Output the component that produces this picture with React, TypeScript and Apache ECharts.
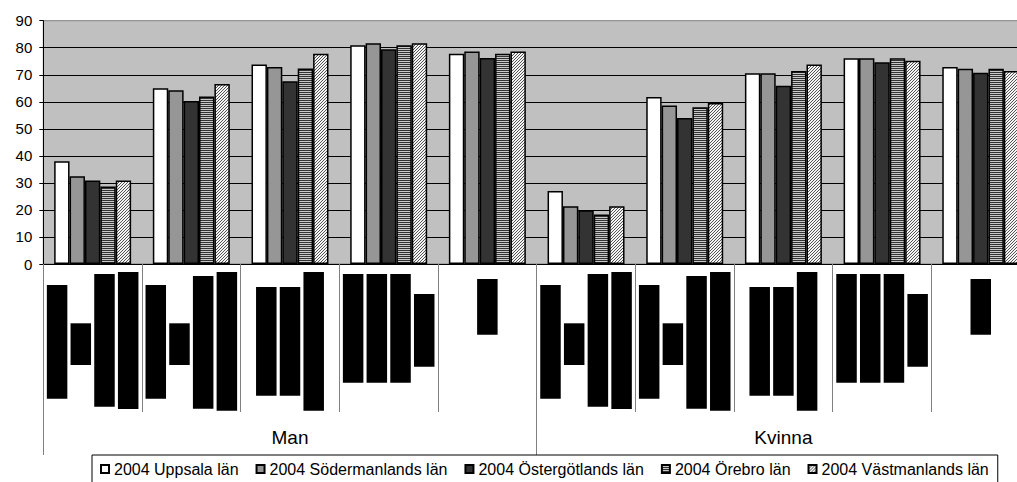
import React, { useEffect, useRef } from 'react';
import * as echarts from 'echarts';

// ---- data ----
const genders = ['Man', 'Kvinna'];
const subgroups = ['Grupp 1', 'Grupp 2', 'Grupp 3', 'Grupp 4', 'Grupp 5'];
const categories = genders.flatMap((g) => subgroups.map((s) => `${g} ${s}`));

const seriesNames = [
  '2004 Uppsala län',
  '2004 Södermanlands län',
  '2004 Östergötlands län',
  '2004 Örebro län',
  '2004 Västmanlands län',
];

const uppsala = [38.0, 65.0, 73.8, 80.9, 77.8, 27.0, 61.8, 70.6, 76.1, 72.9];
const sodermanland = [32.5, 64.3, 72.9, 81.7, 78.6, 21.4, 58.6, 70.6, 76.1, 72.2];
const ostergotland = [30.9, 60.3, 67.6, 79.4, 76.2, 19.9, 54.0, 65.9, 74.6, 70.7];
const orebro = [28.7, 62.0, 72.3, 80.9, 77.8, 18.3, 58.0, 71.4, 76.1, 72.2];
const vastmanland = [30.9, 66.6, 77.8, 81.7, 78.6, 21.4, 59.6, 73.8, 75.2, 71.4];

const yMin = 0;
const yMax = 90;
const yInterval = 10;

// ---- label rendering (illegible rotated labels appear as black blocks) ----
// per sub-group: lines of [offset from base, block length]
const labelBlocks: number[][][] = [
  [[13.3, 113.7], [47, 41.7], [5.3, 132.7], [3, 137]],
  [[13.3, 113.7], [47, 41.7], [3.3, 132.7], [1.3, 138.7]],
  [[16.3, 108.7], [16.3, 108.7], [1.3, 138.7]],
  [[29.3, 108.7], [29.3, 108.7], [29.3, 108.7], [45.3, 72.7]],
  [[77.3, 55.7]],
];

const FONT = 'Arial, "Liberation Sans", sans-serif';

function makePattern(w: number, h: number, draw: (ctx: CanvasRenderingContext2D) => void) {
  const c = document.createElement('canvas');
  c.width = w;
  c.height = h;
  const ctx = c.getContext('2d') as CanvasRenderingContext2D;
  draw(ctx);
  return { image: c, repeat: 'repeat' };
}

export default function App() {
  const ref = useRef<HTMLDivElement>(null);

  useEffect(() => {
    if (!ref.current) return;
    const chart = echarts.init(ref.current, undefined, { renderer: 'svg' });

    const stripes = makePattern(2, 2, (ctx) => {
      ctx.fillStyle = '#c8c8c8';
      ctx.fillRect(0, 0, 2, 2);
      ctx.fillStyle = '#333333';
      ctx.fillRect(0, 0, 2, 1);
    });
    const hatch = makePattern(3, 3, (ctx) => {
      ctx.fillStyle = '#f4f4f4';
      ctx.fillRect(0, 0, 3, 3);
      ctx.fillStyle = '#555555';
      for (let y = 0; y < 3; y++) {
        for (let x = 0; x < 3; x++) {
          if ((x + y) % 3 === 0) ctx.fillRect(x, y, 1, 1);
        }
      }
    });

    const fills: any[] = ['#ffffff', '#969696', '#333333', stripes, hatch];
    const values = [uppsala, sodermanland, ostergotland, orebro, vastmanland];

    // rich styles for label blocks
    const rich: Record<string, any> = {};
    const widthNames = new Map<string, string>();
    const styleName = (w: number, black: boolean) => {
      const key = `${black ? 'b' : 's'}${w}`;
      if (!widthNames.has(key)) {
        const name = `${black ? 'b' : 's'}${widthNames.size}`;
        widthNames.set(key, name);
        rich[name] = {
          width: w,
          height: 20.5,
          lineHeight: 23.7,
          fontSize: 10,
          color: '#000',
          backgroundColor: black ? '#000' : 'transparent',
        };
      }
      return widthNames.get(key) as string;
    };
    const formatted = labelBlocks.map((lines) =>
      lines
        .map(([sp, w]) => `{${styleName(sp, false)}|\u00a0}{${styleName(w, true)}|\u00a0}`)
        .join('\n')
    );

    chart.setOption({
      animation: false,
      textStyle: { fontFamily: FONT, color: '#000' },
      grid: {
        left: 43.3,
        top: 20.7,
        width: 986.8,
        height: 243.3,
        show: true,
        backgroundColor: '#c0c0c0',
        borderColor: '#808080',
        borderWidth: 1,
        outerBoundsMode: 'none',
      },
      legend: {
        left: 92,
        top: 455,
        itemWidth: 8,
        itemHeight: 8,
        itemGap: 17,
        padding: [6, 9, 14, 8],
        borderColor: '#000',
        borderWidth: 1,
        icon: 'rect',
        textStyle: { fontSize: 16, fontFamily: FONT, color: '#000' },
        data: seriesNames,
      },
      xAxis: [
        {
          type: 'category',
          data: categories,
          position: 'bottom',
          axisLine: { show: true, lineStyle: { color: '#000', width: 1 } },
          axisTick: {
            show: true,
            interval: 0,
            length: 148,
            lineStyle: { color: '#808080', width: 1 },
          },
          axisLabel: {
            interval: 0,
            rotate: 90,
            margin: 148,
            align: 'left',
            verticalAlign: 'middle',
            lineHeight: 23.7,
            formatter: (_v: string, i: number) => formatted[i % subgroups.length],
            rich,
          },
          splitLine: { show: false },
        },
        {
          type: 'category',
          data: genders,
          position: 'bottom',
          axisLine: { show: false },
          axisTick: {
            show: true,
            interval: 0,
            length: 191,
            lineStyle: { color: '#808080', width: 1 },
          },
          axisLabel: {
            interval: 0,
            margin: 173,
            verticalAlign: 'middle',
            fontSize: 19,
            fontFamily: FONT,
            color: '#000',
          },
          splitLine: { show: false },
        },
      ],
      yAxis: {
        type: 'value',
        min: yMin,
        max: yMax,
        interval: yInterval,
        axisLine: { show: true, lineStyle: { color: '#000', width: 1 } },
        axisTick: { show: true, length: 4, lineStyle: { color: '#000' } },
        axisLabel: { fontSize: 15, color: '#000', margin: 11, fontFamily: FONT },
        splitLine: { show: true, showMaxLine: false, lineStyle: { color: '#000', width: 1 } },
      },
      series: seriesNames.map((name, i) => ({
        name,
        type: 'bar',
        xAxisIndex: 0,
        data: values[i],
        barGap: '0%',
        barCategoryGap: '22%',
        itemStyle: { color: fills[i], borderColor: '#000', borderWidth: 1.5 },
      })),
    });

    return () => chart.dispose();
  }, []);

  return (
    <div style={{ position: 'fixed', left: 0, top: 0, width: 1017, height: 482, overflow: 'hidden', background: '#fff' }}>
      <div ref={ref} style={{ width: 1040, height: 500 }} />
    </div>
  );
}
